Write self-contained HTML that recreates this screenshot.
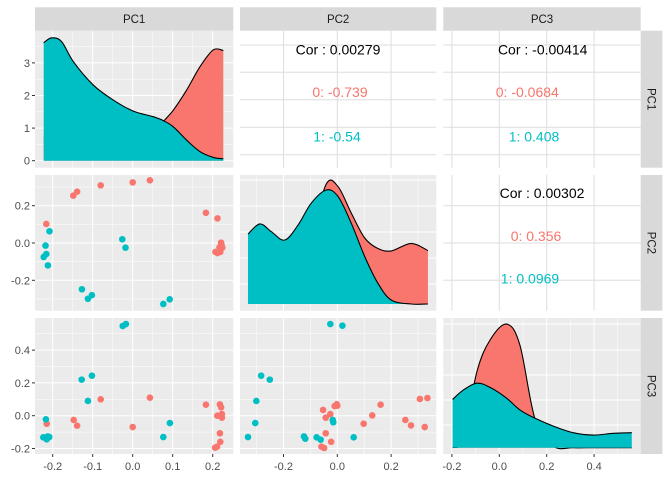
<!DOCTYPE html>
<html><head><meta charset="utf-8"><style>
html,body{margin:0;padding:0;background:#fff}
svg{display:block;font-family:"Liberation Sans",sans-serif}
</style></head><body>
<svg id="chart" width="672" height="480" xmlns="http://www.w3.org/2000/svg"></svg>
<script>
// ---- data ----
const varNames = ["PC1","PC2","PC3"];
const groupColors = ["#F8766D","#00BFC4"];
// diag densities
const d1x = [-0.2225,-0.2025,-0.1775,-0.1485,-0.0985,-0.0485,0.0015,0.0515,0.0765,0.1015,0.135,0.168,0.2015,0.2265];
const d1teal = [3.62,3.77,3.65,3.04,2.32,1.86,1.52,1.35,1.23,1.04,0.63,0.28,0.10,0.06];
const d1red = [0.72,0.6,0.45,0.35,0.3,0.35,0.5,0.8,1.2,1.55,2.17,2.88,3.4,3.38];
const d2x = [-0.332,-0.288,-0.245,-0.196,-0.146,-0.097,-0.041,0.003,0.052,0.102,0.151,0.201,0.275,0.337];
const d2teal = [2.33,2.67,2.41,2.13,2.63,3.36,3.80,3.58,2.69,1.58,0.69,0.13,0.0,0.0];
const d2red = [0.02,0.1,0.3,0.6,1.2,2.3,4.0,3.91,3.03,2.2,1.85,1.77,2.02,1.78];
const d3x = [-0.197,-0.152,-0.095,-0.039,0.031,0.087,0.151,0.228,0.312,0.397,0.481,0.559];
const d3teal = [1.61,1.92,2.15,2.01,1.65,1.26,0.98,0.72,0.50,0.42,0.48,0.50];
const d3red = [0.0,0.3,2.52,3.59,4.12,3.42,0.95,0.05,0,0,0,0];
// scatter PC1 (x) vs PC2 (y)
const s21redX = [-0.1485,-0.139,-0.080,0.000,0.043,0.183,0.212,-0.216,0.221,0.224,0.207,0.212,0.219,0.217,0.222];
const s21redY = [0.254,0.275,0.309,0.325,0.336,0.162,0.132,0.102,0.002,-0.025,-0.048,-0.054,-0.048,-0.023,-0.011];
const s21tealX = [-0.208,-0.218,-0.216,-0.2225,-0.212,-0.026,-0.018,-0.127,-0.102,-0.112,0.0925,0.0765];
const s21tealY = [0.063,-0.014,-0.059,-0.075,-0.120,0.020,-0.025,-0.248,-0.280,-0.299,-0.302,-0.327];
// scatter PC1 (x) vs PC3 (y)
const s31redX = [-0.215,-0.1475,-0.139,-0.080,0.000,0.043,0.183,0.218,0.221,0.223,0.2115,0.223,0.218,0.219,0.206,0.211];
const s31redY = [-0.049,-0.026,-0.061,0.100,-0.069,0.110,0.067,0.069,0.051,0.010,0.000,-0.012,-0.107,-0.159,-0.195,-0.189];
const s31tealX = [-0.025,-0.017,-0.1275,-0.102,-0.112,-0.217,0.093,0.0765,-0.2235,-0.215,-0.2085,-0.2125];
const s31tealY = [0.547,0.559,0.220,0.244,0.090,-0.022,-0.045,-0.130,-0.132,-0.144,-0.130,-0.126];
// scatter PC2 (x) vs PC3 (y)
const s32redX = [-0.053,-0.026,-0.043,-0.010,0.000,-0.002,-0.043,-0.023,-0.059,-0.049,0.098,0.130,0.161,0.253,0.274,0.307,0.335,0.325];
const s32redY = [0.035,0.010,-0.012,0.059,0.061,0.070,-0.107,-0.159,-0.189,-0.197,-0.049,0.002,0.067,-0.026,-0.059,0.102,0.108,-0.069];
const s32tealX = [-0.026,0.019,-0.283,-0.251,-0.301,-0.305,-0.332,-0.124,-0.119,-0.077,-0.062,-0.017,-0.015,0.061];
const s32tealY = [0.559,0.549,0.244,0.220,0.090,-0.045,-0.130,-0.126,-0.140,-0.132,-0.146,-0.026,-0.040,-0.132];
// correlation labels
const corText = [
  {r:0,c:1,lines:["Cor : 0.00279","0: -0.739","1: -0.54"],xo:[338,340,337]},
  {r:0,c:2,lines:["Cor : -0.00414","0: -0.0684","1: 0.408"],xo:[542.7,527.3,534]},
  {r:1,c:2,lines:["Cor : 0.00302","0: 0.356","1: 0.0969"],xo:[542,536,530]}
];
// ticks
const colMajor = [[-0.2,-0.1,0,0.1,0.2],[-0.2,0,0.2],[-0.2,0,0.2,0.4]];
const colMinor = [[-0.15,-0.05,0.05,0.15],[-0.3,-0.1,0.1,0.3],[-0.1,0.1,0.3,0.5]];
const colLabels = [["-0.2","-0.1","0.0","0.1","0.2"],["-0.2","0.0","0.2"],["-0.2","0.0","0.2","0.4"]];
const row1Major = [0,1,2,3], row1Minor=[0.5,1.5,2.5,3.5], row1Labels=["0","1","2","3"];
const row2Major = [-0.2,0,0.2], row2Minor=[-0.3,-0.1,0.1,0.3], row2Labels=["-0.2","0.0","0.2"];
const row3Major = [-0.2,0,0.2,0.4], row3Minor=[-0.1,0.1,0.3,0.5], row3Labels=["-0.2","0.0","0.2","0.4"];

// ---- layout ----
const R=[[30.7,167.7],[175,310.7],[318,454]];
const C=[[35,233.3],[240,436.3],[443.3,640.7]];
const X=[v=>132.7+400*v, v=>337.3+269*v, v=>499.3+237*v];
const Y=[v=>160.7-32.6*v, v=>243-186.5*v, v=>415.7-164*v];
const D=[v=>160.7-32.6*v, v=>304-30*v, v=>447.7-30*v];
const svg=document.getElementById('chart');
const NS="http://www.w3.org/2000/svg";
function mk(tag,attrs,parent){const e=document.createElementNS(NS,tag);for(const k in attrs)e.setAttribute(k,attrs[k]);(parent||svg).appendChild(e);return e;}
function smooth(pts){let d=`M${pts[0][0]},${pts[0][1]}`;for(let i=0;i<pts.length-1;i++){const p0=pts[i-1]||pts[i],p1=pts[i],p2=pts[i+1],p3=pts[i+2]||p2;
const c1=[p1[0]+(p2[0]-p0[0])/6,p1[1]+(p2[1]-p0[1])/6],c2=[p2[0]-(p3[0]-p1[0])/6,p2[1]-(p3[1]-p1[1])/6];
d+=` C${c1[0]},${c1[1]} ${c2[0]},${c2[1]} ${p2[0]},${p2[1]}`;}return d;}
const rowMaj=[row1Major,row2Major,row3Major], rowMin=[row1Minor,row2Minor,row3Minor], rowLab=[row1Labels,row2Labels,row3Labels];

for(let r=0;r<3;r++)for(let c=0;c<3;c++){
  const [x0,x1]=C[c],[y0,y1]=R[r];
  const upper=c>r;
  const g=mk('g',{});
  
  
  mk('rect',{x:x0,y:y0,width:x1-x0,height:y1-y0,fill:upper?'#fff':'#ebebeb'},g);
  const gc=upper?'#dedede':'#fff';
  if(!upper){
    colMinor[c].forEach(v=>{const x=X[c](v);if(x>x0&&x<x1)mk('line',{x1:x,x2:x,y1:y0,y2:y1,stroke:'#fff','stroke-width':0.5},g);});
    const yf=r===c&&r>0?null:Y[r];
    if(yf)rowMin[r].forEach(v=>{const y=yf(v);if(y>y0&&y<y1)mk('line',{x1:x0,x2:x1,y1:y,y2:y,stroke:'#fff','stroke-width':0.5},g);});
  }
  colMajor[c].forEach(v=>{const x=X[c](v);mk('line',{x1:x,x2:x,y1:y0,y2:y1,stroke:gc,'stroke-width':1},g);});
  if(r===0&&upper){[45,72.3,99.7,127.3,154.7].forEach(y=>mk('line',{x1:x0,x2:x1,y1:y,y2:y,stroke:gc,'stroke-width':1},g));}
  else if(!(r===c&&r>0)){rowMaj[r].forEach(v=>{const y=Y[r](v);mk('line',{x1:x0,x2:x1,y1:y,y2:y,stroke:gc,'stroke-width':1},g);});}
  else{
    const ys=r===1?[180,206,232,258,284]:[324,350,375,400,425];
    ys.forEach(y=>mk('line',{x1:x0,x2:x1,y1:y,y2:y,stroke:'#fff','stroke-width':1},g));
  }
}
// densities
function dens(c,xs,vals,color,name){
  const pts=xs.map((v,i)=>[X[c](v),D[c](vals[i])]);
  const base=D[c](0);
  const d=smooth(pts)+` L${pts[pts.length-1][0]},${base} L${pts[0][0]},${base} Z`;
  const p=mk('path',{d:d,fill:color,stroke:'none'});
  
  
  const l=mk('path',{d:smooth(pts),fill:'none',stroke:'#000','stroke-width':1.1});
  
  
}
dens(0,d1x,d1red,groupColors[0],'density-pc1-group0');dens(0,d1x,d1teal,groupColors[1],'density-pc1-group1');
dens(1,d2x,d2red,groupColors[0],'density-pc2-group0');dens(1,d2x,d2teal,groupColors[1],'density-pc2-group1');
dens(2,d3x,d3red,groupColors[0],'density-pc3-group0');dens(2,d3x,d3teal,groupColors[1],'density-pc3-group1');
// scatters
function scat(r,c,xs,ys,color,name){xs.forEach((v,i)=>{const p=mk('circle',{cx:X[c](v),cy:Y[r](ys[i]),r:3.3,fill:color});
  
  });}
scat(1,0,s21redX,s21redY,groupColors[0],'point-group0');scat(1,0,s21tealX,s21tealY,groupColors[1],'point-group1');
scat(2,0,s31redX,s31redY,groupColors[0],'point-group0');scat(2,0,s31tealX,s31tealY,groupColors[1],'point-group1');
scat(2,1,s32redX,s32redY,groupColors[0],'point-group0');scat(2,1,s32tealX,s32tealY,groupColors[1],'point-group1');
// correlation text
const yRows=[[54.5,97,141.5],[198,241,283.5]];
corText.forEach(o=>{o.lines.forEach((t,i)=>{const e=mk('text',{x:o.xo[i],y:yRows[o.r][i],'text-anchor':'middle','font-size':14,fill:i===0?'#000':groupColors[i-1]});e.textContent=t;
  
  });});
// strips
varNames.forEach((n,i)=>{
  const s=mk('rect',{x:C[i][0],y:7.3,width:C[i][1]-C[i][0],height:23.4,fill:'#d9d9d9'});
  
  
  const t=mk('text',{x:(C[i][0]+C[i][1])/2,y:23,'text-anchor':'middle','font-size':11.5,fill:'#1a1a1a'});t.textContent=n;
  
  
  const s2=mk('rect',{x:640.7,y:R[i][0],width:21.7,height:R[i][1]-R[i][0],fill:'#d9d9d9'});
  
  
  const cy=(R[i][0]+R[i][1])/2;
  const t2=mk('text',{x:647.5,y:cy,'text-anchor':'middle','font-size':11.5,fill:'#1a1a1a',transform:`rotate(90 647.5 ${cy})`});t2.textContent=n;
  
  
});
// axes
for(let c=0;c<3;c++){colMajor[c].forEach((v,i)=>{const x=X[c](v);mk('line',{x1:x,x2:x,y1:454,y2:457,stroke:'#333','stroke-width':1});
  const t=mk('text',{x:x,y:470,'text-anchor':'middle','font-size':11,fill:'#4d4d4d'});t.textContent=colLabels[c][i];
  
  });}
for(let r=0;r<3;r++){rowMaj[r].forEach((v,i)=>{const y=Y[r](v);mk('line',{x1:32,x2:35,y1:y,y2:y,stroke:'#333','stroke-width':1});
  const t=mk('text',{x:30,y:y+4,'text-anchor':'end','font-size':11,fill:'#4d4d4d'});t.textContent=rowLab[r][i];
  
  });}
</script>
</body></html>
